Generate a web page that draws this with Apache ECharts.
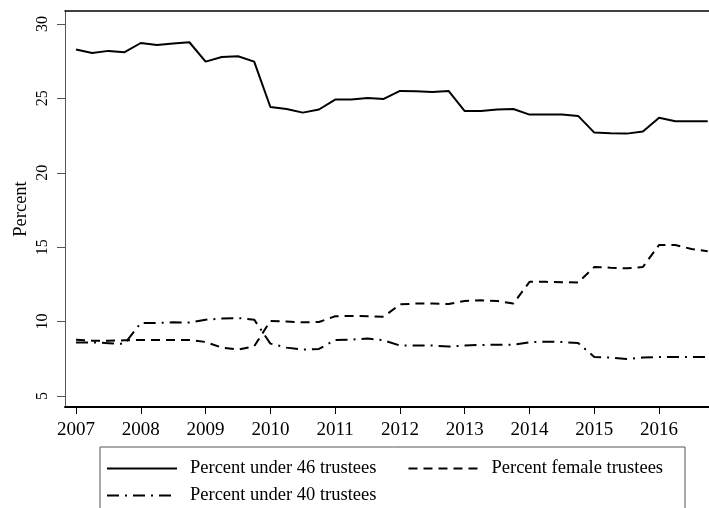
<!DOCTYPE html>
<html>
<head>
<meta charset="utf-8">
<script src="https://cdn.jsdelivr.net/npm/echarts@6/dist/echarts.min.js"></script>
<style>
  html, body { margin: 0; padding: 0; background: #fff; }
  #chart { width: 709px; height: 508px; }
</style>
</head>
<body>
<div id="chart"></div>
<script>
// quarterly observations, 2007Q1 .. 2016Q4
const quarters = [
  2007, 2007.25, 2007.5, 2007.75, 2008, 2008.25, 2008.5, 2008.75,
  2009, 2009.25, 2009.5, 2009.75, 2010, 2010.25, 2010.5, 2010.75,
  2011, 2011.25, 2011.5, 2011.75, 2012, 2012.25, 2012.5, 2012.75,
  2013, 2013.25, 2013.5, 2013.75, 2014, 2014.25, 2014.5, 2014.75,
  2015, 2015.25, 2015.5, 2015.75, 2016, 2016.25, 2016.5, 2016.75
]
const under46 = [
  28.28, 28.05, 28.19, 28.1, 28.72, 28.59, 28.68, 28.77,
  27.47, 27.78, 27.83, 27.47, 24.42, 24.29, 24.04, 24.25,
  24.92, 24.92, 25.03, 24.96, 25.5, 25.48, 25.43, 25.5,
  24.15, 24.15, 24.25, 24.28, 23.91, 23.91, 23.91, 23.82,
  22.7, 22.65, 22.63, 22.77, 23.7, 23.46, 23.46, 23.46
]
const female = [
  8.78, 8.72, 8.72, 8.74, 8.76, 8.76, 8.76, 8.76,
  8.63, 8.25, 8.12, 8.34, 10.04, 10.0, 9.95, 9.97,
  10.36, 10.38, 10.36, 10.33, 11.16, 11.21, 11.21, 11.18,
  11.39, 11.43, 11.38, 11.21, 12.67, 12.67, 12.65, 12.62,
  13.67, 13.62, 13.58, 13.67, 15.15, 15.15, 14.88, 14.72
]
const under40 = [
  8.6, 8.6, 8.55, 8.5, 9.91, 9.91, 9.95, 9.93,
  10.13, 10.2, 10.24, 10.13, 8.52, 8.25, 8.12, 8.16,
  8.77, 8.79, 8.86, 8.74, 8.39, 8.39, 8.39, 8.32,
  8.39, 8.43, 8.45, 8.45, 8.61, 8.65, 8.63, 8.56,
  7.62, 7.58, 7.49, 7.58, 7.62, 7.62, 7.62, 7.62
]
const yearTicks = [2007, 2008, 2009, 2010, 2011, 2012, 2013, 2014, 2015, 2016]
const percentTicks = [5, 10, 15, 20, 25, 30]

const names = ['Percent under 46 trustees', 'Percent female trustees', 'Percent under 40 trustees']
const font = 'Liberation Serif'

function pairs(ys) {
  return quarters.map((x, i) => [x, ys[i]])
}

const legendText = { fontFamily: font, fontSize: 18.5, color: '#000', padding: [0, 0, 0, 8] }

const chart = echarts.init(document.getElementById('chart'))
chart.setOption({
  animation: false,
  textStyle: { fontFamily: font, color: '#000' },
  grid: { left: 65, right: 0, top: 11, bottom: 101 },
  legend: [{
    data: [names[0], names[1]],
    left: 106,
    top: 459,
    padding: 0,
    itemWidth: 70,
    itemHeight: 14,
    itemGap: 31,
    itemStyle: { opacity: 0 },
    textStyle: legendText
  }, {
    data: [names[2]],
    left: 106,
    top: 486,
    padding: 0,
    itemWidth: 70,
    itemHeight: 14,
    itemStyle: { opacity: 0 },
    textStyle: legendText
  }],
  graphic: [{
    type: 'rect',
    shape: { x: 100, y: 447, width: 585, height: 80 },
    style: { fill: 'none', stroke: '#555', lineWidth: 1 }
  }],
  xAxis: [{
    type: 'value',
    min: 2006.83,
    max: 2016.77,
    splitLine: { show: false },
    axisLine: { lineStyle: { color: '#000', width: 2 } },
    axisTick: { length: 7, lineStyle: { color: '#000' }, customValues: yearTicks },
    axisLabel: {
      margin: 14,
      fontFamily: font,
      fontSize: 19,
      color: '#000',
      customValues: yearTicks,
      formatter: v => String(v)
    }
  }, {
    type: 'value',
    position: 'top',
    min: 2006.83,
    max: 2016.77,
    splitLine: { show: false },
    axisLine: { show: true, lineStyle: { color: '#000', width: 1.5 } },
    axisTick: { show: false },
    axisLabel: { show: false }
  }],
  yAxis: {
    type: 'value',
    min: 4.26,
    max: 30.87,
    name: 'Percent',
    nameLocation: 'middle',
    nameRotate: 90,
    nameGap: 34,
    nameMoveOverlap: false,
    nameTextStyle: { fontFamily: font, fontSize: 18.5, color: '#000' },
    splitLine: { show: false },
    axisLine: { show: true, lineStyle: { color: '#555', width: 1 } },
    axisTick: { show: true, length: 8, lineStyle: { color: '#555' }, customValues: percentTicks },
    axisLabel: { rotate: 90, margin: 14, fontFamily: font, fontSize: 16, color: '#000', customValues: percentTicks }
  },
  series: [{
    name: names[0],
    type: 'line',
    symbol: 'none',
    lineStyle: { color: '#000', width: 2, type: 'solid' },
    itemStyle: { color: '#000' },
    data: pairs(under46)
  }, {
    name: names[1],
    type: 'line',
    symbol: 'none',
    lineStyle: { color: '#000', width: 2, type: [9, 6] },
    itemStyle: { color: '#000' },
    data: pairs(female)
  }, {
    name: names[2],
    type: 'line',
    symbol: 'none',
    lineStyle: { color: '#000', width: 2, type: [12, 6, 2, 6] },
    itemStyle: { color: '#000' },
    data: pairs(under40)
  }]
})
</script>
</body>
</html>
